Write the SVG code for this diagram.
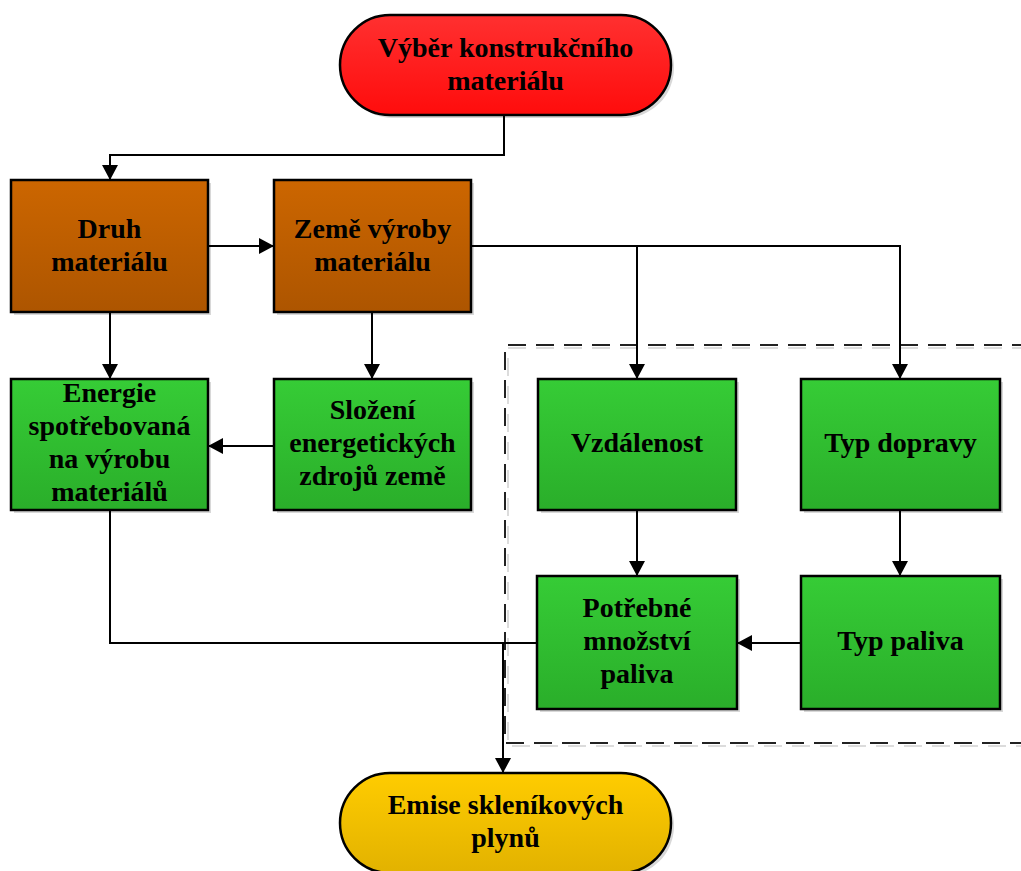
<svg xmlns="http://www.w3.org/2000/svg" width="1021" height="871" viewBox="0 0 1021 871">
  <defs>
    <linearGradient id="gRed" x1="0" y1="0" x2="0" y2="1">
      <stop offset="0" stop-color="#ff3030"/>
      <stop offset="1" stop-color="#ff0c0c"/>
    </linearGradient>
    <linearGradient id="gBrown" x1="0" y1="0" x2="0" y2="1">
      <stop offset="0" stop-color="#cc6600"/>
      <stop offset="1" stop-color="#ad5500"/>
    </linearGradient>
    <linearGradient id="gGreen" x1="0" y1="0" x2="0" y2="1">
      <stop offset="0" stop-color="#36cc36"/>
      <stop offset="1" stop-color="#2aae2a"/>
    </linearGradient>
    <linearGradient id="gYellow" x1="0" y1="0" x2="0" y2="1">
      <stop offset="0" stop-color="#ffcc00"/>
      <stop offset="1" stop-color="#e2b200"/>
    </linearGradient>
    <marker id="arrow" markerUnits="userSpaceOnUse" markerWidth="17" markerHeight="17" refX="15" refY="8" orient="auto">
      <path d="M0,0 L15,8 L0,16 Z" fill="#000"/>
    </marker>
  </defs>
  <style>
    .shadow { fill: #d8d8d8; }
    .node { stroke: #000; stroke-width: 2.5; }
    .lbl { font-family: "Liberation Serif", "Times New Roman", serif; font-weight: bold; font-size: 28px; fill: #000; text-anchor: middle; }
    .wire { fill: none; stroke: #000; stroke-width: 2; }
    .dash { fill: none; stroke: #222; stroke-width: 2; stroke-dasharray: 18 10; }
    .dashShadow { fill: none; stroke: #dcdcdc; stroke-width: 2; stroke-dasharray: 18 10; }
  </style>

  <rect width="1021" height="871" fill="#fff"/>

  <!-- dashed transport frame -->
  <g id="transport-frame">
    <path class="dashShadow" d="M1030,348 H508 V746 H1030"/>
    <path class="dash" d="M1030,345 H505 V743 H1030"/>
  </g>

  <g id="n-vyber">
    <rect class="shadow" x="343" y="18" width="331" height="100" rx="50"/>
    <rect class="node" x="340" y="15" width="331" height="100" rx="50" fill="url(#gRed)"/>
    <text class="lbl" x="505.5" y="57">Výběr konstrukčního</text>
    <text class="lbl" x="505.5" y="90">materiálu</text>
  </g>

  <g id="n-druh">
    <rect class="shadow" x="14" y="183" width="197" height="132"/>
    <rect class="node" x="11" y="180" width="197" height="132" fill="url(#gBrown)"/>
    <text class="lbl" x="109.5" y="238">Druh</text>
    <text class="lbl" x="109.5" y="271">materiálu</text>
  </g>

  <g id="n-zeme">
    <rect class="shadow" x="277" y="183" width="197" height="132"/>
    <rect class="node" x="274" y="180" width="197" height="132" fill="url(#gBrown)"/>
    <text class="lbl" x="372.5" y="238">Země výroby</text>
    <text class="lbl" x="372.5" y="271">materiálu</text>
  </g>

  <g id="n-energie">
    <rect class="shadow" x="14" y="382" width="197" height="131"/>
    <rect class="node" x="11" y="379" width="197" height="131" fill="url(#gGreen)"/>
    <text class="lbl" x="109.5" y="402">Energie</text>
    <text class="lbl" x="109.5" y="435">spotřebovaná</text>
    <text class="lbl" x="109.5" y="468">na výrobu</text>
    <text class="lbl" x="109.5" y="501">materiálů</text>
  </g>

  <g id="n-slozeni">
    <rect class="shadow" x="277" y="382" width="197" height="131"/>
    <rect class="node" x="274" y="379" width="197" height="131" fill="url(#gGreen)"/>
    <text class="lbl" x="372.5" y="419">Složení</text>
    <text class="lbl" x="372.5" y="452">energetických</text>
    <text class="lbl" x="372.5" y="485">zdrojů země</text>
  </g>

  <g id="n-vzdalenost">
    <rect class="shadow" x="541" y="382" width="198" height="131"/>
    <rect class="node" x="538" y="379" width="198" height="131" fill="url(#gGreen)"/>
    <text class="lbl" x="637" y="452">Vzdálenost</text>
  </g>

  <g id="n-typ-dopravy">
    <rect class="shadow" x="804" y="382" width="199" height="131"/>
    <rect class="node" x="801" y="379" width="199" height="131" fill="url(#gGreen)"/>
    <text class="lbl" x="900.5" y="452">Typ dopravy</text>
  </g>

  <g id="n-potrebne">
    <rect class="shadow" x="540" y="579" width="200" height="133"/>
    <rect class="node" x="537" y="576" width="200" height="133" fill="url(#gGreen)"/>
    <text class="lbl" x="637" y="617">Potřebné</text>
    <text class="lbl" x="637" y="650">množství</text>
    <text class="lbl" x="637" y="683">paliva</text>
  </g>

  <g id="n-typ-paliva">
    <rect class="shadow" x="804" y="579" width="199" height="133"/>
    <rect class="node" x="801" y="576" width="199" height="133" fill="url(#gGreen)"/>
    <text class="lbl" x="900.5" y="650">Typ paliva</text>
  </g>

  <g id="n-emise">
    <rect class="shadow" x="343" y="776" width="331" height="100" rx="50"/>
    <rect class="node" x="340" y="773" width="331" height="100" rx="50" fill="url(#gYellow)"/>
    <text class="lbl" x="505.5" y="814">Emise skleníkových</text>
    <text class="lbl" x="505.5" y="847">plynů</text>
  </g>

  <g id="connectors">
    <path class="wire" d="M504,115 V155 H110 V180" marker-end="url(#arrow)"/>
    <path class="wire" d="M208,246 H274" marker-end="url(#arrow)"/>
    <path class="wire" d="M471,246 H900 V379" marker-end="url(#arrow)"/>
    <path class="wire" d="M637,246 V379" marker-end="url(#arrow)"/>
    <path class="wire" d="M110,312 V379" marker-end="url(#arrow)"/>
    <path class="wire" d="M372,312 V379" marker-end="url(#arrow)"/>
    <path class="wire" d="M274,446 H208" marker-end="url(#arrow)"/>
    <path class="wire" d="M637,510 V576" marker-end="url(#arrow)"/>
    <path class="wire" d="M900,510 V576" marker-end="url(#arrow)"/>
    <path class="wire" d="M801,643 H737" marker-end="url(#arrow)"/>
    <path class="wire" d="M110,510 V643 H503 V773" marker-end="url(#arrow)"/>
    <path class="wire" d="M537,643 H503"/>
  </g>
</svg>
